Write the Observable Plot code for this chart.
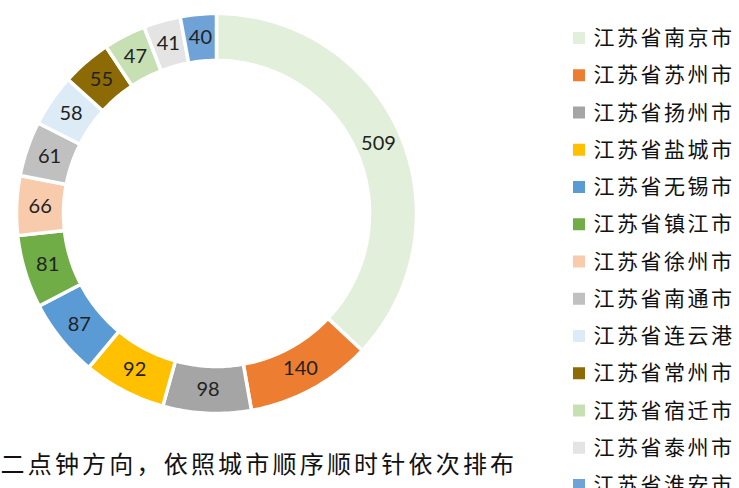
<!DOCTYPE html>
<html>
<head>
<meta charset="utf-8">
<script src="https://cdn.jsdelivr.net/npm/d3@7"></script>
<script src="https://cdn.jsdelivr.net/npm/@observablehq/plot@0.6"></script>
<style>
  html, body { margin: 0; padding: 0; background: #fff; }
  #chart { width: 739px; height: 488px; overflow: hidden; }
</style>
</head>
<body>
<div id="chart"></div>
<script>
const cities = ["江苏省南京市","江苏省苏州市","江苏省扬州市","江苏省盐城市","江苏省无锡市","江苏省镇江市","江苏省徐州市","江苏省南通市","江苏省连云港","江苏省常州市","江苏省宿迁市","江苏省泰州市","江苏省淮安市"];
const values = [509, 140, 98, 92, 87, 81, 66, 61, 58, 55, 47, 41, 40];
const colors = ["#E2EFDA","#ED7D31","#A5A5A5","#FFC000","#5B9BD5","#70AD47","#F8CBAD","#C0C0C0","#DDEBF7","#8C6A06","#C6E0B4","#E4E4E4","#6FA3D8"];
const note = "二点钟方向，依照城市顺序顺时针依次排布";

// geometry (pixels)
const W = 739, H = 488;
const cx = 216, cy = 213, rOuter = 200, rInner = 153;

const table = cities.map((c, i) => ({city: c, value: values[i]}));
const arcs = d3.pie().sort(null).value(d => d.value)(table);

const pt = (a, r) => [cx + r * Math.sin(a), cy - r * Math.cos(a)];

const polys = [];
for (const a of arcs) {
  const n = Math.max(2, Math.ceil((a.endAngle - a.startAngle) / (Math.PI / 180)));
  const outer = d3.range(n + 1).map(k => a.startAngle + (a.endAngle - a.startAngle) * k / n);
  for (const t of outer) { const [x, y] = pt(t, rOuter); polys.push({city: a.data.city, x, y}); }
  for (const t of outer.slice().reverse()) { const [x, y] = pt(t, rInner); polys.push({city: a.data.city, x, y}); }
  const [x0, y0] = pt(a.startAngle, rOuter); polys.push({city: a.data.city, x: x0, y: y0});
}

const labels = arcs.map(a => {
  const m = (a.startAngle + a.endAngle) / 2;
  const [x, y] = pt(m, (rOuter + rInner) / 2);
  return {city: a.data.city, value: a.data.value, x, y};
});

const legendX = 579, legendY0 = 38, legendStep = 37.25, sw = 12;
const legend = cities.map((c, i) => ({city: c, x: legendX, y: legendY0 + i * legendStep}));

const plot = Plot.plot({
  width: W, height: H,
  margin: 0,
  x: {domain: [0, W], range: [0, W], axis: null},
  y: {domain: [0, H], range: [0, H], axis: null},
  color: {domain: cities, range: colors},
  style: {background: "#fff"},
  marks: [
    Plot.line(polys, {x: "x", y: "y", z: "city", fill: "city", stroke: "white", strokeWidth: 3.5, curve: "linear"}),
    Plot.text(labels, {x: "x", y: "y", text: d => String(d.value), fontSize: 20, fill: "#222", fontFamily: "Lato, 'Open Sans', sans-serif"}),
    Plot.rect(legend, {x1: d => d.x - sw/2, x2: d => d.x + sw/2, y1: d => d.y - sw/2, y2: d => d.y + sw/2, fill: "city"}),
    Plot.text(legend, {x: d => d.x + 14, y: "y", text: "city", textAnchor: "start", fontSize: 21, fill: "#111", fontFamily: "'Noto Sans CJK SC', sans-serif"}),
    Plot.text([note], {x: () => 0, y: () => 465, text: d => d, textAnchor: "start", fontSize: 24, fill: "#111", fontFamily: "'Noto Sans CJK SC', sans-serif"})
  ]
});
d3.select(plot).selectAll('g[font-size="21"]').attr("letter-spacing", "2.5px");
d3.select(plot).selectAll('g[font-size="24"]').attr("letter-spacing", "3.2px");
document.getElementById("chart").appendChild(plot);
</script>
</body>
</html>
